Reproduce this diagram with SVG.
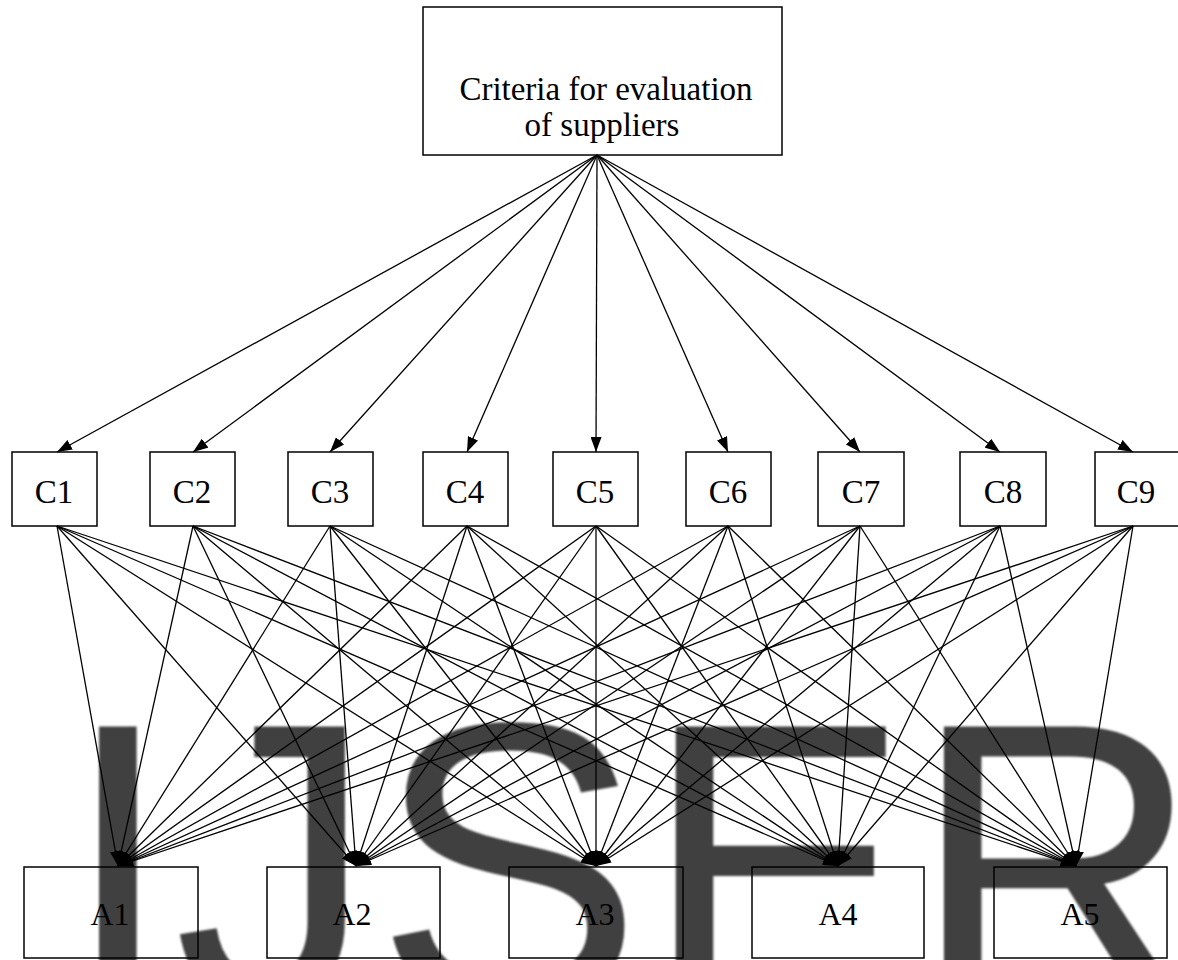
<svg xmlns="http://www.w3.org/2000/svg" width="1178" height="960" viewBox="0 0 1178 960">
<style>
.box{fill:none;stroke:#000;stroke-width:1.5}
.lbl{font-size:33px;fill:#000;text-anchor:middle}
.lblA{font-size:32px;fill:#000;text-anchor:middle}
.wm{font-size:402px;fill:#404040}
#connectors line{stroke:#000;stroke-width:1.3;marker-end:url(#arr)}
</style>
<defs>
<marker id="arr" markerUnits="userSpaceOnUse" markerWidth="15" markerHeight="11" refX="15" refY="5.5" orient="auto">
<path d="M0,0 L15,5.5 L0,11 z" fill="#000"/>
</marker>
<filter id="blur" x="-5%" y="-5%" width="110%" height="110%"><feGaussianBlur stdDeviation="1.2"/></filter>
</defs>
<rect width="1178" height="960" fill="#fff"/>
<text class="wm" font-family="Liberation Sans, Arial, sans-serif" x="62" y="1003" filter="url(#blur)">IJSER</text>
<g font-family="Liberation Serif, Times New Roman, DejaVu Serif, serif">
<g id="root"><rect class="box" x="423" y="7" width="359" height="148"/>
<text class="lbl" x="606" y="100">Criteria for evaluation</text>
<text class="lbl" x="602" y="136">of suppliers</text></g>
<g id="C1"><rect class="box" x="12" y="452" width="85" height="74"/><text class="lbl" x="54" y="503">C1</text></g>
<g id="C2"><rect class="box" x="150" y="452" width="85" height="74"/><text class="lbl" x="192" y="503">C2</text></g>
<g id="C3"><rect class="box" x="288" y="452" width="85" height="74"/><text class="lbl" x="330" y="503">C3</text></g>
<g id="C4"><rect class="box" x="423" y="452" width="85" height="74"/><text class="lbl" x="465" y="503">C4</text></g>
<g id="C5"><rect class="box" x="553" y="452" width="85" height="74"/><text class="lbl" x="595" y="503">C5</text></g>
<g id="C6"><rect class="box" x="686" y="452" width="85" height="74"/><text class="lbl" x="728" y="503">C6</text></g>
<g id="C7"><rect class="box" x="818" y="452" width="86" height="74"/><text class="lbl" x="861" y="503">C7</text></g>
<g id="C8"><rect class="box" x="960" y="452" width="86" height="74"/><text class="lbl" x="1003" y="503">C8</text></g>
<g id="C9"><rect class="box" x="1095" y="452" width="86" height="74"/><text class="lbl" x="1136" y="503">C9</text></g>
<g id="A1"><rect class="box" x="24" y="867" width="174" height="91"/><text class="lblA" x="110" y="925">A1</text></g>
<g id="A2"><rect class="box" x="267" y="867" width="173" height="91"/><text class="lblA" x="352" y="925">A2</text></g>
<g id="A3"><rect class="box" x="509" y="867" width="174" height="91"/><text class="lblA" x="595" y="925">A3</text></g>
<g id="A4"><rect class="box" x="752" y="867" width="172" height="91"/><text class="lblA" x="838" y="925">A4</text></g>
<g id="A5"><rect class="box" x="994" y="867" width="173" height="91"/><text class="lblA" x="1080" y="925">A5</text></g>
</g>
<g id="connectors">
<line x1="597" y1="155" x2="57" y2="452"/>
<line x1="597" y1="155" x2="193" y2="452"/>
<line x1="597" y1="155" x2="330" y2="452"/>
<line x1="597" y1="155" x2="467" y2="452"/>
<line x1="597" y1="155" x2="596" y2="452"/>
<line x1="597" y1="155" x2="728" y2="452"/>
<line x1="597" y1="155" x2="860" y2="452"/>
<line x1="597" y1="155" x2="1000" y2="452"/>
<line x1="597" y1="155" x2="1133" y2="452"/>
<line x1="57" y1="526" x2="118" y2="866"/><line x1="57" y1="526" x2="356" y2="866"/><line x1="57" y1="526" x2="596" y2="866"/><line x1="57" y1="526" x2="838" y2="866"/><line x1="57" y1="526" x2="1076" y2="866"/>
<line x1="193" y1="526" x2="118" y2="866"/><line x1="193" y1="526" x2="356" y2="866"/><line x1="193" y1="526" x2="596" y2="866"/><line x1="193" y1="526" x2="838" y2="866"/><line x1="193" y1="526" x2="1076" y2="866"/>
<line x1="330" y1="526" x2="118" y2="866"/><line x1="330" y1="526" x2="356" y2="866"/><line x1="330" y1="526" x2="596" y2="866"/><line x1="330" y1="526" x2="838" y2="866"/><line x1="330" y1="526" x2="1076" y2="866"/>
<line x1="467" y1="526" x2="118" y2="866"/><line x1="467" y1="526" x2="356" y2="866"/><line x1="467" y1="526" x2="596" y2="866"/><line x1="467" y1="526" x2="838" y2="866"/><line x1="467" y1="526" x2="1076" y2="866"/>
<line x1="596" y1="526" x2="118" y2="866"/><line x1="596" y1="526" x2="356" y2="866"/><line x1="596" y1="526" x2="596" y2="866"/><line x1="596" y1="526" x2="838" y2="866"/><line x1="596" y1="526" x2="1076" y2="866"/>
<line x1="728" y1="526" x2="118" y2="866"/><line x1="728" y1="526" x2="356" y2="866"/><line x1="728" y1="526" x2="596" y2="866"/><line x1="728" y1="526" x2="838" y2="866"/><line x1="728" y1="526" x2="1076" y2="866"/>
<line x1="860" y1="526" x2="118" y2="866"/><line x1="860" y1="526" x2="356" y2="866"/><line x1="860" y1="526" x2="596" y2="866"/><line x1="860" y1="526" x2="838" y2="866"/><line x1="860" y1="526" x2="1076" y2="866"/>
<line x1="1000" y1="526" x2="118" y2="866"/><line x1="1000" y1="526" x2="356" y2="866"/><line x1="1000" y1="526" x2="596" y2="866"/><line x1="1000" y1="526" x2="838" y2="866"/><line x1="1000" y1="526" x2="1076" y2="866"/>
<line x1="1133" y1="526" x2="118" y2="866"/><line x1="1133" y1="526" x2="356" y2="866"/><line x1="1133" y1="526" x2="596" y2="866"/><line x1="1133" y1="526" x2="838" y2="866"/><line x1="1133" y1="526" x2="1076" y2="866"/>
</g>
</svg>
